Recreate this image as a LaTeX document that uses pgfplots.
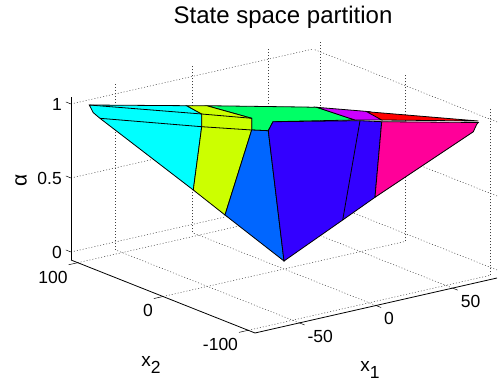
\documentclass[border=0pt]{standalone}
\usepackage{fontspec}
\setmainfont{Liberation Sans}
\usepackage{pgfplots}
\pgfplotsset{compat=1.18}
\definecolor{cCyan}{HTML}{00FFFF}
\definecolor{cYel}{HTML}{CCFF00}
\definecolor{cBlue}{HTML}{0066FF}
\definecolor{cNavy}{HTML}{3300FF}
\definecolor{cGreen}{HTML}{00FF66}
\definecolor{cPurp}{HTML}{CC00FF}
\definecolor{cMag}{HTML}{FF0099}
\definecolor{cRed}{HTML}{FF0000}
\begin{document}
\begin{tikzpicture}
\useasboundingbox (0,0) rectangle (498pt,381pt);
\begin{axis}[
  at={(284pt,120pt)}, anchor=origin,
  x={(1.532pt,0.348pt)}, y={(-0.852pt,0.338pt)}, z={(0pt,148pt)},
  xmin=-79, xmax=79, ymin=-108, ymax=108, zmin=-0.054, zmax=1.07,
  clip=false,
  xtick={-50,0,50}, ytick={-100,0,100}, ztick={0,0.5,1},
  grid=major,
  grid style={black!75, line width=0.5pt, dash pattern=on 1pt off 2pt},
  axis line style={draw=none},
  major tick length=0pt,
  /pgf/number format/assume math mode=true,
  tick label style={font=\fontsize{17.5}{20}\selectfont, inner sep=0pt},
  xticklabel style={anchor=north west, xshift=8pt, yshift=-7pt},
  yticklabel style={anchor=north east, xshift=-10pt, yshift=-8pt},
  zticklabel style={anchor=east, xshift=-9pt},
]
% axis lines
\addplot3[black, line width=0.8pt] coordinates {(-79,-108,-0.054)(79,-108,-0.054)};
\addplot3[black, line width=0.8pt] coordinates {(-79,-108,-0.054)(-79,108,-0.054)};
\addplot3[black, line width=0.8pt] coordinates {(-79,108,-0.054)(-79,108,1.05)};
% ticks
\addplot3[black, line width=0.5pt] coordinates {(-50,-108,-0.054)(-50,-114,-0.054)};
\addplot3[black, line width=0.5pt] coordinates {(0,-108,-0.054)(0,-114,-0.054)};
\addplot3[black, line width=0.5pt] coordinates {(50,-108,-0.054)(50,-114,-0.054)};
\addplot3[black, line width=0.5pt] coordinates {(-79,-100,-0.054)(-85,-100,-0.054)};
\addplot3[black, line width=0.5pt] coordinates {(-79,0,-0.054)(-85,0,-0.054)};
\addplot3[black, line width=0.5pt] coordinates {(-79,100,-0.054)(-85,100,-0.054)};
\addplot3[black, line width=0.5pt] coordinates {(-79,108,0)(-79,114,0)};
\addplot3[black, line width=0.5pt] coordinates {(-79,108,0.5)(-79,114,0.5)};
\addplot3[black, line width=0.5pt] coordinates {(-79,108,1)(-79,114,1)};
% back faces
\addplot3[black, line width=0.8pt, fill=cGreen] coordinates {(-24.45,46.77,1)(13.63,3.73,1)(19.53,-3.26,1)(22.15,-43.52,1)(-13.67,-11.67,1)(-25.04,-26.59,1)(-31.2,-18.18,1)(-18.96,3.83,1)} -- cycle;
\addplot3[black, line width=0.8pt, fill=cPurp] coordinates {(19.53,-3.26,1)(37.06,-34.31,1)(33.24,-54.93,1)(22.15,-43.52,1)} -- cycle;
\addplot3[black, line width=0.8pt, fill=cRed] coordinates {(35.69,-32.9,1)(72.28,-98.09,1)(33.24,-54.93,1)} -- cycle;
\addplot3[black, line width=0.8pt, fill=cCyan] coordinates {(-72.45,98.26,1)(-32.75,55.32,1)(-35.21,33.29,1)(-48.49,9.39,1)(-39.24,35.91,0.49)(-74.2,82.6,0.95)(-76.52,86.24,0.985)} -- cycle;
\addplot3[black, line width=0.8pt, fill=cYel] coordinates {(-32.75,55.32,1)(-24.45,46.77,1)(-18.96,3.83,1)(-31.2,-18.18,1)(-25.91,22.66,0.32)(-39.24,35.91,0.49)(-48.49,9.39,1)(-35.21,33.29,1)} -- cycle;
\addplot3[black, line width=0.8pt, fill=cBlue] coordinates {(-31.2,-18.18,1)(-25.04,-26.59,1)(0,0,0)(-25.91,22.66,0.32)} -- cycle;
\addplot3[black, line width=0.8pt, fill=cNavy] coordinates {(-13.67,-11.67,1)(-25.04,-26.59,1)(0,0,0)(19.26,-34.27,0.31)(30.09,-52.7,0.48)(31.46,-58.13,1)(23.49,-46.97,1)} -- cycle;
\addplot3[black, line width=0.8pt, fill=cMag] coordinates {(31.46,-58.13,1)(70.71,-100.9,1)(70.49,-99.44,0.985)(66.76,-102.2,0.95)(30.09,-52.7,0.48)} -- cycle;
% inner edges
\addplot3[black, line width=0.8pt] coordinates {(-72.45,98.26,1)(-35.21,33.29,1)(-18.96,3.83,1)};
\addplot3[black, line width=0.8pt] coordinates {(-74.2,82.6,0.95)(-48.49,9.39,1)(-31.2,-18.18,1)};
\addplot3[black, line width=0.8pt] coordinates {(23.49,-46.97,1)(19.26,-34.27,0.31)};
\end{axis}
\node[font=\fontsize{24}{26}\selectfont, anchor=center] at (283pt,364pt) {State space partition};
\node[font=\fontsize{21}{22}\selectfont, rotate=90] at (21pt,201pt) {α};
\node[font=\fontsize{19}{22}\selectfont] at (370pt,11pt) {x\raisebox{-7pt}{\fontsize{17.5}{20}\selectfont 1}};
\node[font=\fontsize{19}{22}\selectfont] at (151pt,16pt) {x\raisebox{-7pt}{\fontsize{17.5}{20}\selectfont 2}};
\end{tikzpicture}
\end{document}
